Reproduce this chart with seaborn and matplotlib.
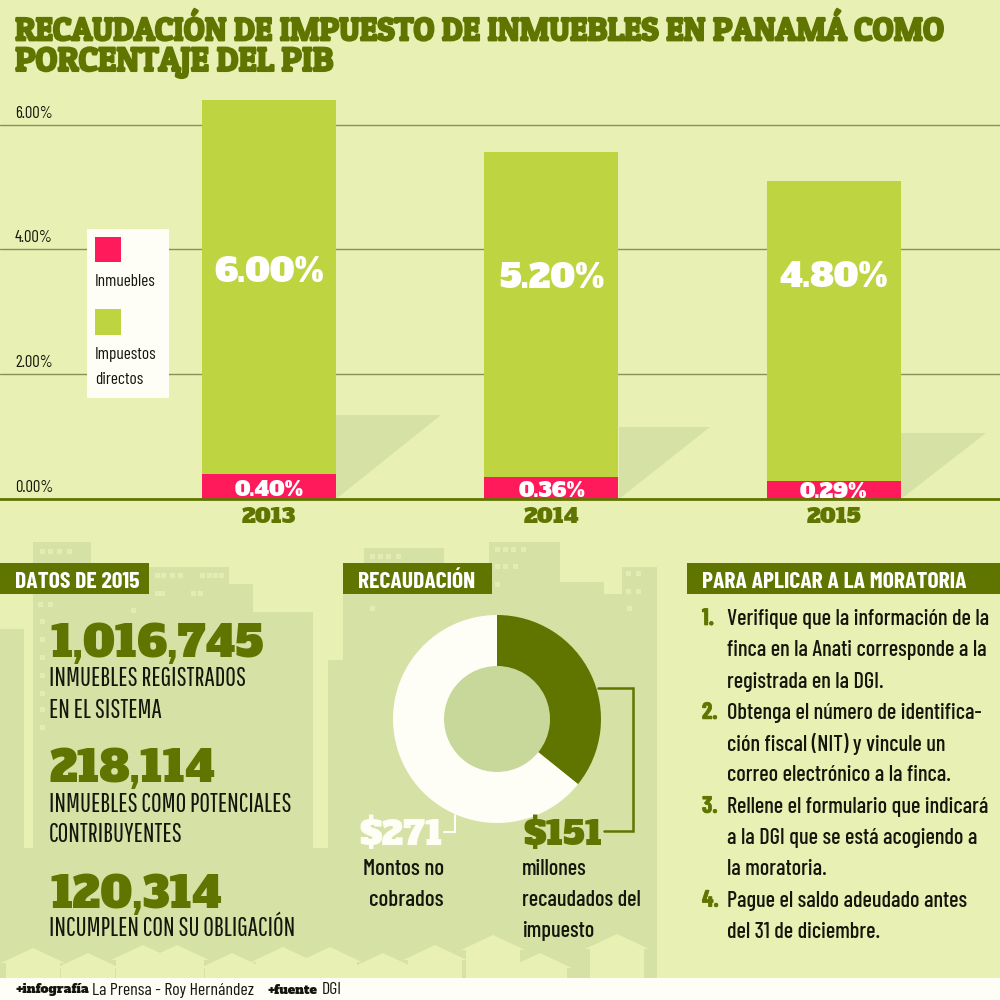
import logging
import matplotlib
matplotlib.use("Agg")
import matplotlib.pyplot as plt
import matplotlib.patheffects as pe
from matplotlib.patches import Rectangle, Polygon, Circle
from matplotlib.transforms import ScaledTranslation
import seaborn as sns

logging.getLogger("matplotlib.font_manager").setLevel(logging.ERROR)

# ---------- data ----------
years = ["2013", "2014", "2015"]
directos = [6.00, 5.20, 4.80]
inmuebles = [0.40, 0.36, 0.29]
ytick_vals = [0, 2, 4, 6]
donut_vals = [151, 271]

title_lines = ["RECAUDACIÓN DE IMPUESTO DE INMUEBLES EN PANAMÁ COMO", "PORCENTAJE DEL PIB"]
datos = [("1,016,745", ["INMUEBLES REGISTRADOS", "EN EL SISTEMA"]),
         ("218,114", ["INMUEBLES COMO POTENCIALES", "CONTRIBUYENTES"]),
         ("120,314", ["INCUMPLEN CON SU OBLIGACIÓN"])]
pasos = [["Verifique que la información de la", "finca en la Anati corresponde a la", "registrada en la DGI."],
         ["Obtenga el número de identifica-", "ción fiscal (NIT) y vincule un", "correo electrónico a la finca."],
         ["Rellene el formulario que indicará", "a la DGI que se está acogiendo a", "la moratoria."],
         ["Pague el saldo adeudado antes", "del 31 de diciembre."]]

# ---------- style ----------
BG = "#E8F1B3"; PANEL = "#D5E1A5"; HOLE = "#C8D89B"; DARK = "#5F7500"
LIME = "#BED441"; PINK = "#FF1A5B"; CREAM = "#FEFEF6"; INK = "#14160C"; GRID = "#87925A"
SLAB = ["Alfa Slab One", "Liberation Serif", "DejaVu Serif"]
TSLAB = ["Patua One", "Liberation Serif", "DejaVu Serif"]
NARROW = ["Barlow Condensed", "Liberation Sans", "DejaVu Sans"]
CAPS = ["Pathway Gothic One", "Barlow Condensed", "Liberation Sans"]
sns.set_theme(style="white")
plt.rcParams["font.family"] = NARROW

fig = plt.figure(figsize=(10, 10), dpi=100, facecolor=BG)

# ---------- background layer, pixel coordinates ----------
bg = fig.add_axes([0, 0, 1, 1], zorder=0)
bg.set_xlim(0, 1000); bg.set_ylim(1000, 0); bg.axis("off")

skyline = [(0, 848, 657, 130), (0, 629, 24, 350), (33, 542, 58, 440), (91, 567, 138, 410),
           (229, 584, 24, 390), (253, 612, 60, 370), (328, 660, 329, 300), (343, 594, 314, 300),
           (364, 548, 80, 60), (444, 563, 46, 60), (489, 542, 71, 60), (560, 582, 44, 60),
           (604, 597, 18, 60), (622, 567, 35, 60)]
for x, y, w, h in skyline:
    bg.add_patch(Rectangle((x, y), w, min(h, 978 - y), color=PANEL, lw=0))

windows = [(42, 551), (50, 551), (59, 551), (69, 551), (157, 575), (163, 575), (172, 575), (180, 575),
           (202, 575), (209, 575), (215, 575), (221, 575), (157, 593), (162, 593), (193, 593), (200, 593),
           (40, 604), (50, 604), (133, 610), (42, 621), (42, 639), (42, 657), (42, 675), (42, 693), (42, 709),
           (42, 727), (372, 608), (372, 556), (380, 556), (388, 556), (398, 556), (497, 549), (505, 549),
           (513, 549), (523, 549), (497, 566), (505, 566), (515, 566), (497, 584), (628, 573), (638, 573),
           (628, 591), (638, 591), (629, 608)]
for x, y in windows:
    bg.add_patch(Rectangle((x - 2.5, y - 2.5), 5, 5, color="#E3ECB3", lw=0))

houses = [(33, 948), (88, 953), (143, 945), (177, 945), (232, 953), (283, 947), (330, 947), (383, 953),
          (435, 945), (493, 935), (540, 953), (617, 934)]
for cx, top in houses:
    bg.add_patch(Polygon([(cx, top), (cx + 32, top + 15), (cx + 27, top + 15), (cx + 27, 978),
                          (cx - 27, 978), (cx - 27, top + 15), (cx - 32, top + 15)], color=BG, lw=0))

tri_edges = [336, 619, 901]
tri_tops = [415, 427, 433]
tri_ends = [441, 710, 986]
for e, t, r in zip(tri_edges, tri_tops, tri_ends):
    bg.add_patch(Polygon([(e, 499), (e, t), (r, t)], color=PANEL, lw=0))

bg.add_patch(Rectangle((0, 978), 1000, 22, color=CREAM, lw=0))

# ---------- bar chart ----------
ax = fig.add_axes([0, 0.501, 1, 0.409], zorder=1)
ax.patch.set_alpha(0)
total = [d + i for d, i in zip(directos, inmuebles)]
sns.barplot(x=years, y=total, color=LIME, saturation=1, width=0.474, ax=ax, linewidth=0)
sns.barplot(x=years, y=inmuebles, color=PINK, saturation=1, width=0.474, ax=ax, linewidth=0)
ax.set_xlim(-0.952, 2.588)
ax.set_ylim(0, 6.554)
ax.set_yticks(ytick_vals)
ax.set_yticklabels([f"{v:.2f}%" for v in ytick_vals], fontsize=12, color=INK)
ax.set_axisbelow(True)
ax.grid(axis="y", color=GRID, lw=1)
ax.grid(axis="x", visible=False)
for side in ["left", "right", "top"]:
    ax.spines[side].set_visible(False)
ax.spines["bottom"].set_color(DARK)
ax.spines["bottom"].set_linewidth(2)
ax.tick_params(axis="both", length=0)
ax.tick_params(axis="x", pad=6)
ax.set_xlabel(""); ax.set_ylabel("")
for lab in ax.get_xticklabels():
    lab.set_fontfamily(SLAB); lab.set_fontsize(15.5); lab.set_color(DARK)
off = ScaledTranslation(15 / 100, 4 / 100, fig.dpi_scale_trans)
for tick in ax.yaxis.get_major_ticks():
    tick.label1.set_transform(ax.get_yaxis_transform() + off)
    tick.label1.set_ha("left"); tick.label1.set_va("bottom")

# ---------- donut ----------
R, r = 104, 53
dax = fig.add_axes([(497 - R) / 1000, 1 - (719 + R) / 1000, 2 * R / 1000, 2 * R / 1000], zorder=2)
dax.pie(donut_vals, colors=[DARK, CREAM], startangle=90, counterclock=False, radius=1,
        wedgeprops=dict(width=1 - r / R, lw=0))
dax.add_patch(Circle((0, 0), r / R, color=HOLE, lw=0, zorder=0))
dax.set_xlim(-1, 1); dax.set_ylim(-1, 1)

# ---------- overlay, pixel coordinates ----------
ov = fig.add_axes([0, 0, 1, 1], zorder=3)
ov.set_xlim(0, 1000); ov.set_ylim(1000, 0); ov.axis("off"); ov.patch.set_alpha(0)

def T(x, y, s, size, color=INK, fam=NARROW, weight="normal", ha="left", stroke=0.0, va="center"):
    t = ov.text(x, y, s, fontsize=size, color=color, family=fam, weight=weight, ha=ha, va=va)
    if stroke:
        t.set_path_effects([pe.withStroke(linewidth=stroke, foreground=color)])
    return t

# title
T(15, 28, title_lines[0], 23.4, DARK, TSLAB, stroke=1.5, va="center_baseline")
T(15, 59, title_lines[1], 24.4, DARK, TSLAB, stroke=1.5, va="center_baseline")

# bar labels
bar_cx = [269, 552, 834]
big_y = [269, 275, 274]
small_y = [488, 489, 490]
for cx, by, sy, d, i in zip(bar_cx, big_y, small_y, directos, inmuebles):
    T(cx, by, f"{d:.2f}%", 24, "white", SLAB, ha="center", va="center_baseline")
    T(cx, sy, f"{i:.2f}%", 15.2, "white", SLAB, ha="center", va="center_baseline")

# legend
ov.add_patch(Rectangle((87, 229), 82, 169, color=CREAM, lw=0))
ov.add_patch(Rectangle((95, 237), 26, 25, color=PINK, lw=0))
ov.add_patch(Rectangle((95, 309), 26, 26, color=LIME, lw=0))
T(95, 282, "Inmuebles", 12.5)
T(95, 355, "Impuestos", 12.5)
T(95, 380, "directos", 12.5)

# banners
for x, w, tx, s in [(0, 149, 15, "DATOS DE 2015"), (343, 149, 358, "RECAUDACIÓN"),
                    (687, 313, 702, "PARA APLICAR A LA MORATORIA")]:
    ov.add_patch(Rectangle((x, 563), w, 31, color=DARK, lw=0))
    T(tx, 580, s, 17, "white", NARROW, "bold", va="center_baseline")

# left panel
num_y = [640, 765, 891]
line_y = [[679, 710], [804, 835], [929]]
for (num, lines), ny, ys in zip(datos, num_y, line_y):
    T(50, ny, num, 31, DARK, SLAB, va="center_baseline")
    for s, y in zip(lines, ys):
        T(49, y, s, 18.6, fam=CAPS)

# donut labels
T(443, 831, f"${donut_vals[1]}", 24, CREAM, SLAB, ha="right", va="center_baseline")
T(523, 831, f"${donut_vals[0]}", 24, DARK, SLAB, ha="left", va="center_baseline")
ov.plot([598, 633, 633, 604], [688, 688, 831, 831], color=DARK, lw=1.8, solid_joinstyle="miter")
ov.plot([455, 455, 444], [815, 832, 832], color=CREAM, lw=1.5, solid_joinstyle="miter")
T(444, 869, "Montos no", 16.5, ha="right", weight="medium")
T(444, 900, "cobrados", 16.5, ha="right", weight="medium")
for y, s in zip([869, 900, 931], ["millones", "recaudados del", "impuesto"]):
    T(522, y, s, 16, weight="medium")

# right list
y = 619
step = 31.3
for n, lines in enumerate(pasos, 1):
    T(702, y, f"{n}.", 17, DARK, NARROW, "bold", stroke=0.5)
    for s in lines:
        T(727, y, s, 16, weight="medium")
        y += step

# footer
T(15, 990, "+infografía", 9.2, INK, SLAB)
T(92, 990, "La Prensa - Roy Hernández", 12.8)
T(268, 990, "+fuente", 9, INK, SLAB)
T(322, 990, "DGI", 12.8)

fig.savefig("out.png", dpi=100, facecolor=BG)
